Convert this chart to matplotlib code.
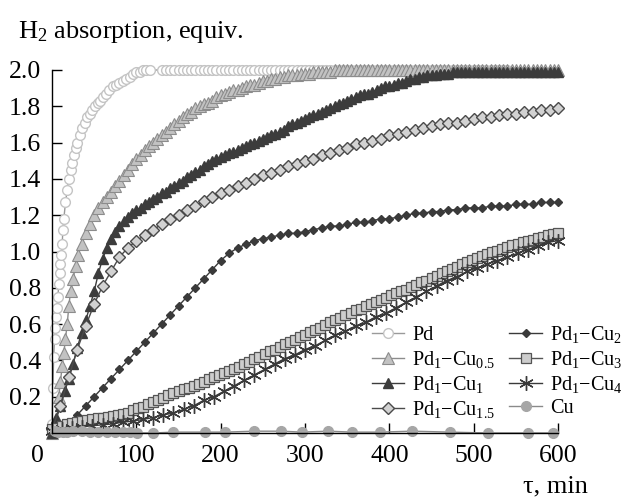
"""H2 absorption kinetics for Pd and Pd-Cu samples."""

import matplotlib
matplotlib.use("Agg")
import matplotlib.pyplot as plt
import matplotlib.transforms as mtransforms

# ---------------------------------------------------------------------------
# Data
# ---------------------------------------------------------------------------
PD_T = [0, 1, 2, 3, 4, 5, 6, 7, 8, 9, 10, 11, 12, 13, 14,
        16, 18, 20, 22, 24, 26, 28, 30,
        33, 36, 39, 42, 45, 48, 51, 54, 57, 60,
        64, 68, 72, 76, 80, 84, 88, 92, 96, 100, 104, 108, 112, 116,
        130, 135, 140, 145, 150, 155, 160, 165, 170, 175,
        180, 185, 190, 195, 200, 205, 210, 215, 220, 225,
        230, 235, 240, 245, 250, 255, 260, 265, 270, 275,
        280, 285, 290, 295, 300, 305, 310, 315, 320, 325,
        330, 335, 340, 345, 350, 355, 360, 365, 370, 375,
        380, 385, 390, 395, 400, 405, 410, 415, 420, 425,
        430, 435, 440, 445, 450, 455, 460, 465, 470, 475,
        480, 485, 490, 495, 500, 505, 510, 515, 520, 525,
        530, 535, 540]
PD_Y = [0.05, 0.25, 0.42, 0.52, 0.58, 0.64, 0.69, 0.75, 0.82, 0.88, 0.93, 0.98, 1.04, 1.12, 1.18,
        1.27, 1.34, 1.40, 1.45, 1.49, 1.53, 1.57, 1.60,
        1.64, 1.68, 1.71, 1.74, 1.76, 1.78, 1.80, 1.82, 1.83, 1.85,
        1.87, 1.89, 1.91, 1.92, 1.93, 1.94, 1.95, 1.96, 1.98, 1.99, 1.99, 2.0, 2.0, 2.0,
        2.0, 2.0, 2.0, 2.0, 2.0, 2.0, 2.0, 2.0, 2.0, 2.0,
        2.0, 2.0, 2.0, 2.0, 2.0, 2.0, 2.0, 2.0, 2.0, 2.0,
        2.0, 2.0, 2.0, 2.0, 2.0, 2.0, 2.0, 2.0, 2.0, 2.0,
        2.0, 2.0, 2.0, 2.0, 2.0, 2.0, 2.0, 2.0, 2.0, 2.0,
        2.0, 2.0, 2.0, 2.0, 2.0, 2.0, 2.0, 2.0, 2.0, 2.0,
        2.0, 2.0, 2.0, 2.0, 2.0, 2.0, 2.0, 2.0, 2.0, 2.0,
        2.0, 2.0, 2.0, 2.0, 2.0, 2.0, 2.0, 2.0, 2.0, 2.0,
        2.0, 2.0, 2.0, 2.0, 2.0, 2.0, 2.0, 2.0, 2.0, 2.0,
        2.0, 2.0, 2.0]

CU05_T = [0, 3, 6, 8, 10, 12, 14, 16, 18, 20, 22, 25, 28, 31, 35, 40, 45,
          50, 55, 60, 65, 70, 75, 80, 85, 90, 95,
          100, 105, 110, 115, 120, 125, 130, 135, 140, 145,
          150, 155, 160, 165, 170, 175, 180, 185, 190, 195,
          200, 205, 210, 215, 220, 225, 230, 235, 240, 245,
          250, 255, 260, 265, 270, 275, 280, 285, 290, 295,
          300, 305, 310, 315, 320, 325, 330, 335, 340, 345,
          350, 355, 360, 365, 370, 375, 380, 385, 390, 395,
          400, 405, 410, 415, 420, 425, 430, 435, 440, 445,
          450, 455, 460, 465, 470, 475, 480, 485, 490, 495,
          500, 505, 510, 515, 520, 525, 530, 535, 540, 545,
          550, 555, 560, 565, 570, 575, 580, 585, 590, 595, 600]
CU05_Y = [0.0, 0.03, 0.07, 0.20, 0.28, 0.37, 0.44, 0.52, 0.60, 0.70, 0.78, 0.85, 0.92, 0.98, 1.04, 1.10, 1.15,
          1.20, 1.24, 1.27, 1.30, 1.33, 1.36, 1.39, 1.42, 1.45, 1.48,
          1.51, 1.53, 1.56, 1.58, 1.60, 1.62, 1.64, 1.66, 1.68, 1.70,
          1.72, 1.74, 1.76, 1.77, 1.79, 1.80, 1.81, 1.82, 1.83, 1.85,
          1.86, 1.87, 1.88, 1.89, 1.89, 1.90, 1.91, 1.92, 1.92, 1.93,
          1.94, 1.94, 1.95, 1.95, 1.96, 1.96, 1.97, 1.97, 1.97, 1.98,
          1.98, 1.98, 1.99, 1.99, 1.99, 1.99, 1.99, 2.0, 2.0, 2.0,
          2.0, 2.0, 2.0, 2.0, 2.0, 2.0, 2.0, 2.0, 2.0, 2.0,
          2.0, 2.0, 2.0, 2.0, 2.0, 2.0, 2.0, 2.0, 2.0, 2.0,
          2.0, 2.0, 2.0, 2.0, 2.0, 2.0, 2.0, 2.0, 2.0, 2.0,
          2.0, 2.0, 2.0, 2.0, 2.0, 2.0, 2.0, 2.0, 2.0, 2.0,
          2.0, 2.0, 2.0, 2.0, 2.0, 2.0, 2.0, 2.0, 2.0, 2.0, 2.0]

T5 = [0, 5, 10, 15, 20, 25, 30, 35, 40, 45,
      50, 55, 60, 65, 70, 75, 80, 85, 90, 95,
      100, 105, 110, 115, 120, 125, 130, 135, 140, 145,
      150, 155, 160, 165, 170, 175, 180, 185, 190, 195,
      200, 205, 210, 215, 220, 225, 230, 235, 240, 245,
      250, 255, 260, 265, 270, 275, 280, 285, 290, 295,
      300, 305, 310, 315, 320, 325, 330, 335, 340, 345,
      350, 355, 360, 365, 370, 375, 380, 385, 390, 395,
      400, 405, 410, 415, 420, 425, 430, 435, 440, 445,
      450, 455, 460, 465, 470, 475, 480, 485, 490, 495,
      500, 505, 510, 515, 520, 525, 530, 535, 540, 545,
      550, 555, 560, 565, 570, 575, 580, 585, 590, 595, 600]
CU1_Y = [0.00, 0.08, 0.15, 0.23, 0.30, 0.38, 0.47, 0.55, 0.62, 0.70,
         0.78, 0.88, 0.96, 1.02, 1.07, 1.11, 1.14, 1.17, 1.19, 1.21,
         1.23, 1.24, 1.26, 1.27, 1.29, 1.30, 1.32, 1.33, 1.35, 1.36,
         1.38, 1.39, 1.41, 1.42, 1.44, 1.45, 1.47, 1.48, 1.50, 1.51,
         1.52, 1.53, 1.54, 1.55, 1.56, 1.57, 1.58, 1.59, 1.60, 1.61,
         1.62, 1.63, 1.64, 1.65, 1.66, 1.67, 1.69, 1.70, 1.71, 1.72,
         1.73, 1.74, 1.75, 1.76, 1.77, 1.78, 1.79, 1.80, 1.81, 1.82,
         1.83, 1.84, 1.85, 1.86, 1.87, 1.87, 1.88, 1.89, 1.90, 1.91,
         1.91, 1.92, 1.93, 1.93, 1.94, 1.95, 1.95, 1.96, 1.96, 1.97,
         1.97, 1.97, 1.98, 1.98, 1.98, 1.99, 1.99, 1.99, 1.99, 1.99,
         1.99, 1.99, 1.99, 1.99, 1.99, 1.99, 1.99, 1.99, 1.99, 1.99,
         1.99, 1.99, 1.99, 1.99, 1.99, 1.99, 1.99, 1.99, 1.99, 1.99, 1.99]

T10 = [0, 10, 20, 30, 40, 50, 60, 70, 80, 90,
       100, 110, 120, 130, 140, 150, 160, 170, 180, 190,
       200, 210, 220, 230, 240, 250, 260, 270, 280, 290,
       300, 310, 320, 330, 340, 350, 360, 370, 380, 390,
       400, 410, 420, 430, 440, 450, 460, 470, 480, 490,
       500, 510, 520, 530, 540, 550, 560, 570, 580, 590, 600]
CU15_Y = [0.02, 0.15, 0.31, 0.46, 0.59, 0.71, 0.81, 0.89, 0.97, 1.02,
          1.06, 1.09, 1.12, 1.15, 1.18, 1.20, 1.23, 1.25, 1.28, 1.30,
          1.32, 1.34, 1.36, 1.38, 1.40, 1.42, 1.43, 1.45, 1.47, 1.48,
          1.50, 1.51, 1.53, 1.54, 1.56, 1.57, 1.59, 1.60, 1.61, 1.62,
          1.64, 1.65, 1.66, 1.67, 1.68, 1.69, 1.70, 1.71, 1.71, 1.72,
          1.73, 1.74, 1.74, 1.75, 1.76, 1.76, 1.77, 1.77, 1.78, 1.78, 1.79]
CU2_Y = [0.00, 0.02, 0.05, 0.10, 0.15, 0.20, 0.25, 0.30, 0.35, 0.40,
         0.45, 0.50, 0.55, 0.60, 0.65, 0.70, 0.75, 0.80, 0.85, 0.90,
         0.95, 0.99, 1.02, 1.04, 1.06, 1.07, 1.08, 1.09, 1.10, 1.10,
         1.11, 1.12, 1.13, 1.14, 1.14, 1.15, 1.16, 1.16, 1.17, 1.18,
         1.18, 1.19, 1.20, 1.21, 1.21, 1.22, 1.22, 1.23, 1.23, 1.24,
         1.24, 1.24, 1.25, 1.25, 1.25, 1.26, 1.26, 1.26, 1.27, 1.27, 1.27]

T6 = [0, 6, 12, 18, 24, 30, 36, 42, 48, 54,
      60, 66, 72, 78, 84, 90, 96, 102, 108, 114,
      120, 126, 132, 138, 144, 150, 156, 162, 168, 174,
      180, 186, 192, 198, 204, 210, 216, 222, 228, 234,
      240, 246, 252, 258, 264, 270, 276, 282, 288, 294,
      300, 306, 312, 318, 324, 330, 336, 342, 348, 354,
      360, 366, 372, 378, 384, 390, 396, 402, 408, 414,
      420, 426, 432, 438, 444, 450, 456, 462, 468, 474,
      480, 486, 492, 498, 504, 510, 516, 522, 528, 534,
      540, 546, 552, 558, 564, 570, 576, 582, 588, 594, 600]
CU3_Y = [0.02, 0.03, 0.04, 0.05, 0.055, 0.06, 0.065, 0.07, 0.075, 0.08,
         0.085, 0.09, 0.095, 0.10, 0.105, 0.11, 0.125, 0.135, 0.145, 0.16,
         0.17, 0.18, 0.195, 0.21, 0.22, 0.23, 0.24, 0.25, 0.26, 0.27,
         0.28, 0.30, 0.31, 0.32, 0.33, 0.34, 0.35, 0.365, 0.38, 0.39,
         0.405, 0.42, 0.435, 0.45, 0.46, 0.475, 0.49, 0.50, 0.515, 0.53,
         0.54, 0.555, 0.57, 0.58, 0.595, 0.61, 0.625, 0.635, 0.65, 0.66,
         0.675, 0.685, 0.70, 0.71, 0.72, 0.735, 0.745, 0.76, 0.77, 0.78,
         0.79, 0.805, 0.815, 0.83, 0.84, 0.855, 0.865, 0.88, 0.89, 0.905,
         0.915, 0.93, 0.94, 0.955, 0.965, 0.975, 0.985, 0.995, 1.005, 1.015,
         1.025, 1.035, 1.04, 1.05, 1.06, 1.065, 1.075, 1.08, 1.09, 1.095, 1.10]

T12 = [0, 12, 24, 36, 48, 60, 72, 84, 96, 108,
       120, 132, 144, 156, 168, 180, 192, 204, 216, 228,
       240, 252, 264, 276, 288, 300, 312, 324, 336, 348,
       360, 372, 384, 396, 408, 420, 432, 444, 456, 468,
       480, 492, 504, 516, 528, 540, 552, 564, 576, 588, 600]
CU4_Y = [0.01, 0.02, 0.03, 0.035, 0.04, 0.045, 0.05, 0.06, 0.065, 0.075,
         0.085, 0.10, 0.11, 0.13, 0.15, 0.18, 0.20, 0.23, 0.26, 0.29,
         0.32, 0.35, 0.38, 0.41, 0.43, 0.46, 0.48, 0.51, 0.54, 0.56,
         0.59, 0.61, 0.64, 0.66, 0.69, 0.72, 0.75, 0.78, 0.81, 0.84,
         0.86, 0.89, 0.91, 0.93, 0.95, 0.97, 0.99, 1.01, 1.03, 1.05, 1.06]

CU_T = [4, 7, 13, 18, 25, 36, 45, 55, 65, 75, 84, 93, 101, 120,
        144, 181, 205, 240, 272, 296, 327, 356, 389, 427, 472, 517, 565, 594]
CU_Y = [0.01, 0.005, 0.005, 0.005, 0.01, 0.01, 0.005, 0.005, 0.005, 0.005, 0.005, 0.005, 0.0, 0.0,
        0.005, 0.005, 0.005, 0.01, 0.01, 0.005, 0.01, 0.005, 0.005, 0.01, 0.005, 0.0, 0.0, 0.0]

LABELS = ["Pd", "Pd$_1$\u2212Cu$_{0.5}$", "Pd$_1$\u2212Cu$_1$", "Pd$_1$\u2212Cu$_{1.5}$",
          "Pd$_1$\u2212Cu$_2$", "Pd$_1$\u2212Cu$_3$", "Pd$_1$\u2212Cu$_4$", "Cu"]
Y_TICKS = [0.2, 0.4, 0.6, 0.8, 1.0, 1.2, 1.4, 1.6, 1.8, 2.0]
X_TICKS = [0, 100, 200, 300, 400, 500, 600]


def main() -> None:
    plt.rcParams["font.family"] = ["Liberation Serif", "DejaVu Serif"]
    plt.rcParams["mathtext.fontset"] = "custom"
    plt.rcParams["mathtext.rm"] = "Liberation Serif"
    plt.rcParams["mathtext.it"] = "Liberation Serif:italic"

    fig = plt.figure(figsize=(6.22, 5.0), dpi=100)
    ax = fig.add_axes([52 / 622, 1 - 433 / 500, 506 / 622, 363 / 500])

    common = dict(lw=1.0, clip_on=False)
    series = [
        (PD_T, PD_Y, dict(marker="o", ms=7.0, mfc="white", mec="#c4c4c4", color="#9a9a9a", mew=1.0)),
        (CU05_T, CU05_Y, dict(marker="^", ms=8.0, mfc="#c2c2c2", mec="#8c8c8c", color="#8c8c8c", mew=0.8)),
        (T5, CU1_Y, dict(marker="^", ms=6.5, mfc="#3c3c3c", mec="#3c3c3c", color="#3c3c3c")),
        (T10, CU15_Y, dict(marker="D", ms=6.0, mfc="#d2d2d2", mec="#4a4a4a", color="#4a4a4a", mew=1.0)),
        (T10, CU2_Y, dict(marker="D", ms=4.5, mfc="#3a3a3a", mec="#3a3a3a", color="#3a3a3a")),
        (T6, CU3_Y, dict(marker="s", ms=7.0, mfc="#cdcdcd", mec="#555555", color="#555555", mew=0.9)),
        (T12, CU4_Y, dict(marker=(6, 2, 0), ms=10.5, mec="#3a3a3a", color="#3a3a3a", mew=1.0)),
        (CU_T, CU_Y, dict(marker="o", ms=7.0, mfc="#a6a6a6", mec="#a6a6a6", color="#8a8a8a")),
    ]
    for (t, y, style), label in zip(series, LABELS):
        ax.plot(t, y, label=label, **common, **style)

    ax.set_xlim(0, 600)
    ax.set_ylim(0, 2.0)
    ax.set_xticks(X_TICKS)
    ax.set_yticks(Y_TICKS)
    ax.set_yticklabels([f"{v:.1f}" for v in Y_TICKS])
    ax.tick_params(direction="in", length=7, width=1.0, labelsize=18.5, pad=8, colors="black")
    ax.tick_params(axis="x", pad=9)
    for side in ("top", "right"):
        ax.spines[side].set_visible(False)
    for side in ("left", "bottom"):
        ax.spines[side].set_linewidth(1.0)

    # the "0" label sits left of the origin in the original
    lbl0 = ax.get_xticklabels()[0]
    lbl0.set_transform(lbl0.get_transform()
                       + mtransforms.ScaledTranslation(-0.15, 0, fig.dpi_scale_trans))

    fig.text(18 / 622, 1 - 32 / 500, "H$_2$ absorption, equiv.", fontsize=19, va="center")
    fig.text(588 / 622, 1 - 486 / 500, "\u03c4, min", fontsize=19, va="center", ha="right")

    ax.legend(ncol=2, loc="upper left", bbox_to_anchor=(372 / 622, 1 - 324 / 500),
              bbox_transform=fig.transFigure, frameon=False, fontsize=14.5,
              handlelength=1.6, handletextpad=0.4, columnspacing=0.7,
              labelspacing=0.2, borderpad=0, borderaxespad=0, numpoints=1)

    fig.savefig("out.png", dpi=100)
    plt.close(fig)


if __name__ == "__main__":
    main()
